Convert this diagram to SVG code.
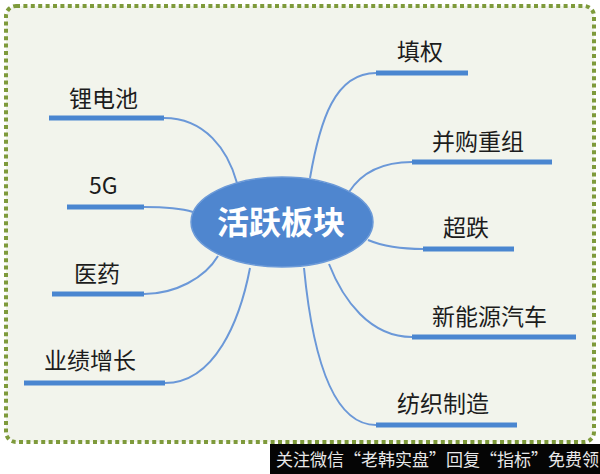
<svg xmlns="http://www.w3.org/2000/svg" width="600" height="474" viewBox="0 0 600 474">
<style>
.bar{stroke:#4a86d0;stroke-width:5;fill:none}
.cv{stroke:#6b98d8;stroke-width:2;fill:none}
.lb{font-family:"Noto Sans CJK SC","Noto Sans",sans-serif;font-size:23px;fill:#1c1c1c}
</style>
<rect x="0" y="0" width="600" height="474" fill="#ffffff"/>
<rect x="6" y="6" width="588" height="436" rx="10" fill="#f2f4ec" stroke="#7e9a3b" stroke-width="4" stroke-dasharray="4 3.4"/>
<g id="connectors">
<path class="cv" d="M164,118 C205,118 228,150 237,183"/>
<path class="cv" d="M144,207 C165,207 180,208 193,212"/>
<path class="cv" d="M144,294 C175,294 205,278 218,256"/>
<path class="cv" d="M165,383 C215,383 240,320 250,268"/>
<path class="cv" d="M376,73 C335,73 320,120 310,178"/>
<path class="cv" d="M412,162 C380,162 360,175 349,192"/>
<path class="cv" d="M423,249 C395,249 380,245 368,240"/>
<path class="cv" d="M412,337 C370,337 343,300 329,264"/>
<path class="cv" d="M376,425 C325,425 310,330 304,268"/>
</g>
<g id="center">
<ellipse cx="282" cy="222" rx="91" ry="45" fill="#4f86cf" stroke="#6c9ad8" stroke-width="1.5"/>
<text x="281" y="234" text-anchor="middle" font-family="'Noto Sans CJK SC',sans-serif" font-size="32" font-weight="bold" fill="#ffffff">活跃板块</text>
</g>
<g id="n-lithium"><line class="bar" x1="49" y1="118" x2="164" y2="118"/><text class="lb" x="69" y="107">锂电池</text></g>
<g id="n-5g"><line class="bar" x1="67" y1="207" x2="144" y2="207"/><text class="lb" x="89" y="194" font-size="24">5G</text></g>
<g id="n-pharma"><line class="bar" x1="52" y1="294" x2="144" y2="294"/><text class="lb" x="74" y="282">医药</text></g>
<g id="n-growth"><line class="bar" x1="24" y1="383" x2="165" y2="383"/><text class="lb" x="44" y="369">业绩增长</text></g>
<g id="n-tianquan"><line class="bar" x1="376" y1="73" x2="468" y2="73"/><text class="lb" x="397" y="60">填权</text></g>
<g id="n-ma"><line class="bar" x1="412" y1="162" x2="552" y2="162"/><text class="lb" x="432" y="150">并购重组</text></g>
<g id="n-oversold"><line class="bar" x1="423" y1="249" x2="514" y2="249"/><text class="lb" x="443" y="236">超跌</text></g>
<g id="n-nev"><line class="bar" x1="412" y1="337" x2="576" y2="337"/><text class="lb" x="432" y="325">新能源汽车</text></g>
<g id="n-textile"><line class="bar" x1="376" y1="425" x2="517" y2="425"/><text class="lb" x="397" y="412">纺织制造</text></g>
<g id="watermark">
<rect x="270" y="444" width="330" height="30" fill="#050505"/>
<text x="276" y="466" font-family="'Noto Sans CJK SC',sans-serif" font-size="17" fill="#e8e8e8">关注微信“老韩实盘”回复“指标”免费领</text>
</g>
</svg>
